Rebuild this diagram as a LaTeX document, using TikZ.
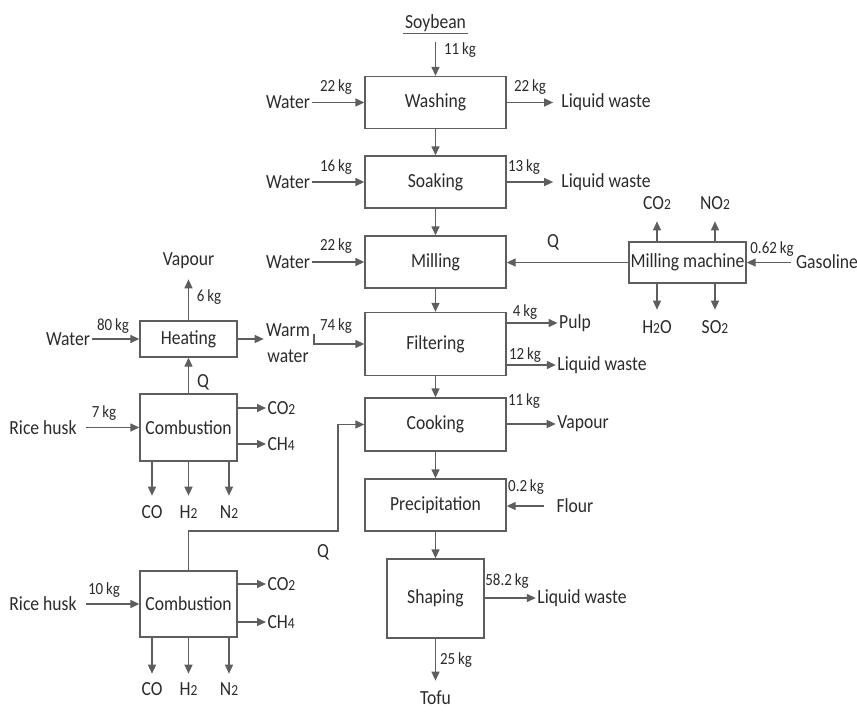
\documentclass[tikz,border=0pt]{standalone}
\usepackage{fontspec}
\setmainfont{Carlito}[FakeStretch=0.88]
\usetikzlibrary{arrows.meta}
\definecolor{lc}{HTML}{5E5E5E}
\definecolor{tc}{HTML}{2B2B2B}
\newcommand\mainsz{\fontsize{15pt}{17pt}\selectfont}
\newcommand\warmsz{\fontsize{15pt}{19.5pt}\selectfont}
\newcommand\kgsz{\fontsize{12.75pt}{14pt}\selectfont}
\newcommand\subs[1]{{\fontsize{11.5pt}{12pt}\selectfont #1}}
\tikzset{
 box/.style={draw=lc, line width=1pt, fill=white, inner sep=0pt, font=\mainsz, text=tc},
 lbl/.style={inner sep=1pt, font=\mainsz, text=tc},
 kg/.style={inner sep=0pt, font=\kgsz, text=tc},
 arr/.style={draw=lc, line width=1pt, -{Triangle[length=6.75pt,width=6pt]}},
 ln/.style={draw=lc, line width=1pt}
}
\begin{document}
\begin{tikzpicture}[x=0.75pt,y=-0.75pt]
\useasboundingbox (0,0) rectangle (857,711);
% main column boxes
\node[box, minimum width=105.75pt, minimum height=39pt] (wash) at (435.5,102.5) {Washing};
\node[box, minimum width=105.75pt, minimum height=39pt] (soak) at (435.5,182) {Soaking};
\node[box, minimum width=105.75pt, minimum height=39pt] (mill) at (435.5,262) {Milling};
\node[box, minimum width=105.75pt, minimum height=47.25pt] (filt) at (435.5,344) {Filtering};
\node[box, minimum width=105.75pt, minimum height=39.75pt] (cook) at (435.5,424.5) {Cooking};
\node[box, minimum width=105.75pt, minimum height=39pt] (prec) at (435.5,505) {Precipitation};
\node[box, minimum width=72.75pt, minimum height=59.25pt] (shap) at (435.5,598.5) {Shaping};
\node[box, minimum width=87.75pt, minimum height=30.75pt] (mm) at (687.5,262.5) {Milling machine};
\node[box, minimum width=72.75pt, minimum height=27pt] (heat) at (188.5,339) {Heating};
\node[box, minimum width=72.75pt, minimum height=50.25pt] (c1) at (188.5,427.5) {Combustion};
\node[box, minimum width=72.75pt, minimum height=49.5pt] (c2) at (188.5,604) {Combustion};

% main flow
\draw[arr] (wash) -- (soak);
\draw[arr] (soak) -- (mill);
\draw[arr] (mill) -- (filt);
\draw[arr] (filt) -- (cook);
\draw[arr] (cook) -- (prec);
\draw[arr] (prec) -- (shap);

% Soybean
\node[lbl] (soy) at (435.5,23) {Soybean};
\draw[ln] ([yshift=-0.5pt]soy.south west) -- ([yshift=-0.5pt]soy.south east);
\coordinate (soyend) at (435.5,42);
\draw[arr] (soyend) -- (wash);
\node[kg] (k11a) at (460,50) {11\,kg};

% Washing row
\node[lbl] (w1) at (288,102.5) {Water};
\draw[arr] (w1) -- (wash);
\node[kg] (k22a) at (336,87) {22\,kg};
\node[lbl] (lw1) at (606,102.5) {Liquid waste};
\draw[arr, shorten >=5pt] (wash) -- (lw1);
\node[kg] (k22b) at (530,87) {22\,kg};

% Soaking row
\node[lbl] (w2) at (288,182) {Water};
\draw[arr] (w2) -- (soak);
\node[kg] (k16) at (336,167) {16\,kg};
\node[lbl] (lw2) at (606,182) {Liquid waste};
\draw[arr, shorten >=5pt] (soak) -- (lw2);
\node[kg] (k13) at (524,167) {13\,kg};

% Milling row
\node[lbl] (w3) at (288,262) {Water};
\draw[arr] (w3) -- (mill);
\node[kg] (k22c) at (336,246) {22\,kg};
\draw[arr] (mm.west) -- (mill.east |- mm.west);
\node[lbl] (q1) at (553,242) {Q};
\node[lbl] (gas) at (827,262) {Gasoline};
\draw[arr, shorten <=3pt] (gas.west |- mm.east) -- (mm.east);
\node[kg] (k062) at (772,249) {0.62\,kg};
\node[lbl] (co2m) at (657,203) {CO\subs{2}};
\node[lbl] (no2m) at (715,203) {NO\subs{2}};
\node[lbl] (h2om) at (657,327) {H\subs{2}O};
\node[lbl] (so2m) at (715,327) {SO\subs{2}};
\draw[arr] (co2m |- mm.north) -- ++(0,-20);
\draw[arr] (no2m |- mm.north) -- ++(0,-20);
\draw[arr] (h2om |- mm.south) -- ++(0,26);
\draw[arr] (so2m |- mm.south) -- ++(0,26);

% Filtering row
\node[lbl] (pulp) at (575,323) {Pulp};
\draw[arr] (filt.east |- pulp) -- (pulp.west);
\node[kg] (k4) at (525,312) {4\,kg};
\node[lbl] (lw3) at (602,365) {Liquid waste};
\draw[arr] (filt.east |- lw3) -- (lw3.west);
\node[kg] (k12) at (525,355) {12\,kg};
\coordinate (ww) at (314,334);
\draw[arr] (ww) |- (filt.west);
\node[kg] (k74) at (336,326) {74\,kg};

% Heating
\node[lbl] (w4) at (68,339) {Water};
\draw[arr] (w4) -- (heat);
\node[kg] (k80) at (113,326) {80\,kg};
\node[lbl] (vap1) at (188.5,261) {Vapour};
\draw[arr] (heat.north) -- ++(0,-41);
\node[kg] (k6) at (209,297) {6\,kg};
\node[lbl, align=center, font=\warmsz] (warm) at (288,343) {Warm\\water};
\draw[arr] (heat.east) -- ++(26,0);
\draw[arr] (c1) -- (heat);
\node[lbl] (q2) at (203,382) {Q};

% Combustion 1
\node[lbl] (rh1) at (43,428) {Rice husk};
\draw[arr, shorten <=6pt] (rh1.east |- c1.west) -- (c1.west);
\node[kg] (k7) at (104,413) {7\,kg};
\node[lbl, anchor=west] (co2a) at (266,408) {CO\subs{2}};
\node[lbl, anchor=west] (ch4a) at (266,444) {CH\subs{4}};
\draw[arr] (c1.east |- co2a) -- (co2a.west);
\draw[arr] (c1.east |- ch4a) -- (ch4a.west);
\node[lbl] (coa) at (152,512) {CO};
\node[lbl] (h2a) at (188.5,512) {H\subs{2}};
\node[lbl] (n2a) at (229,512) {N\subs{2}};
\draw[arr] (coa |- c1.south) -- ++(0,34);
\draw[arr] (h2a |- c1.south) -- ++(0,34);
\draw[arr] (n2a |- c1.south) -- ++(0,34);

% Q line from combustion 2 to cooking
\coordinate (qa) at (188.5,531);
\coordinate (qb) at (338,531);
\draw[arr] (c2.north) -- (qa) -- (qb) |- (cook.west);
\node[lbl] (q3) at (323,552) {Q};

% Combustion 2
\node[lbl] (rh2) at (43,604) {Rice husk};
\draw[arr, shorten <=6pt] (rh2.east |- c2.west) -- (c2.west);
\node[kg] (k10) at (104,590) {10\,kg};
\node[lbl, anchor=west] (co2b) at (266,584) {CO\subs{2}};
\node[lbl, anchor=west] (ch4b) at (266,622) {CH\subs{4}};
\draw[arr] (c2.east |- co2b) -- (co2b.west);
\draw[arr] (c2.east |- ch4b) -- (ch4b.west);
\node[lbl] (cob) at (152,689) {CO};
\node[lbl] (h2b) at (188.5,689) {H\subs{2}};
\node[lbl] (n2b) at (229,689) {N\subs{2}};
\draw[arr] (cob |- c2.south) -- ++(0,36);
\draw[arr] (h2b |- c2.south) -- ++(0,36);
\draw[arr] (n2b |- c2.south) -- ++(0,36);

% Cooking
\node[lbl] (vap2) at (583,424) {Vapour};
\draw[arr] (cook.east |- vap2) -- (vap2.west);
\node[kg] (k11b) at (524,401) {11\,kg};

% Precipitation
\node[lbl] (flour) at (575,506) {Flour};
\draw[arr, shorten <=8pt] (flour.west) -- (prec.east |- flour.west);
\node[kg] (k02) at (526,487) {0.2\,kg};

% Shaping
\node[lbl] (lw4) at (582,598) {Liquid waste};
\draw[arr] (shap.east |- lw4) -- (lw4.west);
\node[kg] (k582) at (507,581) {58.2\,kg};
\node[lbl] (tofu) at (435.5,698) {Tofu};
\draw[arr] (shap.south) -- ++(0,42);
\node[kg] (k25) at (456,660) {25\,kg};
\end{tikzpicture}
\end{document}
